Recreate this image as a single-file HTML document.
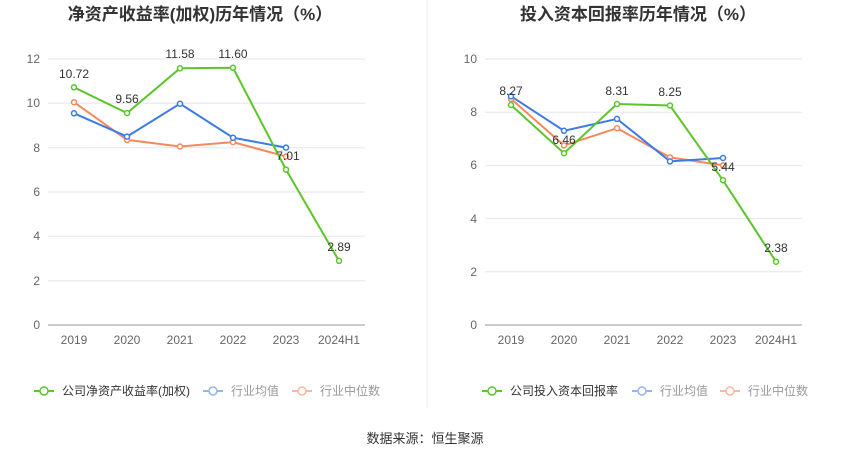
<!DOCTYPE html><html><head><meta charset="utf-8"><style>
body{margin:0;background:#fff;}
svg text{font-family:"Liberation Sans","Noto Sans CJK SC",sans-serif;}
</style></head><body>
<svg width="850" height="459" xmlns="http://www.w3.org/2000/svg">
<line x1="427" y1="0" x2="427" y2="408" stroke="#eee"/>
<text x="200" y="20" font-size="17" font-weight="bold" fill="#333" text-anchor="middle">净资产收益率(加权)历年情况（%）</text>
<text x="638" y="20" font-size="17" font-weight="bold" fill="#333" text-anchor="middle">投入资本回报率历年情况（%）</text>
<g stroke="#e6e6ee" stroke-width="1">
<line x1="48" x2="365" y1="59" y2="59"/><line x1="48" x2="365" y1="103.3" y2="103.3"/><line x1="48" x2="365" y1="147.7" y2="147.7"/><line x1="48" x2="365" y1="192" y2="192"/><line x1="48" x2="365" y1="236.3" y2="236.3"/><line x1="48" x2="365" y1="280.7" y2="280.7"/>
<line x1="485" x2="802" y1="59" y2="59"/><line x1="485" x2="802" y1="112.2" y2="112.2"/><line x1="485" x2="802" y1="165.4" y2="165.4"/><line x1="485" x2="802" y1="218.6" y2="218.6"/><line x1="485" x2="802" y1="271.8" y2="271.8"/>
</g>
<line x1="48" x2="365" y1="325" y2="325" stroke="#999"/>
<line x1="485" x2="802" y1="325" y2="325" stroke="#999"/>
<g font-size="12" fill="#666" text-anchor="end">
<text x="40" y="329">0</text><text x="40" y="285">2</text><text x="40" y="240">4</text><text x="40" y="196">6</text><text x="40" y="152">8</text><text x="40" y="107">10</text><text x="40" y="63">12</text>
<text x="477" y="329">0</text><text x="477" y="276">2</text><text x="477" y="223">4</text><text x="477" y="169">6</text><text x="477" y="116">8</text><text x="477" y="63">10</text>
</g>
<g font-size="12" fill="#666" text-anchor="middle">
<text x="74" y="344">2019</text><text x="127" y="344">2020</text><text x="180" y="344">2021</text><text x="233" y="344">2022</text><text x="286" y="344">2023</text><text x="339" y="344">2024H1</text>
<text x="511" y="344">2019</text><text x="564" y="344">2020</text><text x="617" y="344">2021</text><text x="670" y="344">2022</text><text x="723" y="344">2023</text><text x="776" y="344">2024H1</text>
</g>
<g fill="#fff" stroke-width="1.5">
<polyline fill="none" stroke="#f5895c" stroke-width="2" points="74,102.2 127,139.9 180,146.5 233,142.1 286,156.5"/>
<polyline fill="none" stroke="#3b7be6" stroke-width="2" points="74,113.3 127,136.6 180,103.7 233,137.7 286,147.6"/>
<polyline fill="none" stroke="#5cc52b" stroke-width="2" points="74,87.3 127,113.1 180,68.3 233,67.8 286,169.6 339,260.9"/>
<polyline fill="none" stroke="#f5895c" stroke-width="2" points="511,98.9 564,145.4 617,128.2 670,157.4 723,165.4"/>
<polyline fill="none" stroke="#3b7be6" stroke-width="2" points="511,96.2 564,130.8 617,118.9 670,161.4 723,158"/>
<polyline fill="none" stroke="#5cc52b" stroke-width="2" points="511,105 564,153.2 617,104 670,105.5 723,180.3 776,261.7"/>
<g stroke="#f5895c"><circle cx="74" cy="102.2" r="2.5"/><circle cx="127" cy="139.9" r="2.5"/><circle cx="180" cy="146.5" r="2.5"/><circle cx="233" cy="142.1" r="2.5"/><circle cx="286" cy="156.5" r="2.5"/><circle cx="511" cy="98.9" r="2.5"/><circle cx="564" cy="145.4" r="2.5"/><circle cx="617" cy="128.2" r="2.5"/><circle cx="670" cy="157.4" r="2.5"/><circle cx="723" cy="165.4" r="2.5"/></g>
<g stroke="#3b7be6"><circle cx="74" cy="113.3" r="2.5"/><circle cx="127" cy="136.6" r="2.5"/><circle cx="180" cy="103.7" r="2.5"/><circle cx="233" cy="137.7" r="2.5"/><circle cx="286" cy="147.6" r="2.5"/><circle cx="511" cy="96.2" r="2.5"/><circle cx="564" cy="130.8" r="2.5"/><circle cx="617" cy="118.9" r="2.5"/><circle cx="670" cy="161.4" r="2.5"/><circle cx="723" cy="158" r="2.5"/></g>
<g stroke="#5cc52b"><circle cx="74" cy="87.3" r="2.5"/><circle cx="127" cy="113.1" r="2.5"/><circle cx="180" cy="68.3" r="2.5"/><circle cx="233" cy="67.8" r="2.5"/><circle cx="286" cy="169.6" r="2.5"/><circle cx="339" cy="260.9" r="2.5"/><circle cx="511" cy="105" r="2.5"/><circle cx="564" cy="153.2" r="2.5"/><circle cx="617" cy="104" r="2.5"/><circle cx="670" cy="105.5" r="2.5"/><circle cx="723" cy="180.3" r="2.5"/><circle cx="776" cy="261.7" r="2.5"/></g>
</g>
<g font-size="12" fill="#333" text-anchor="middle">
<text x="74" y="78">10.72</text><text x="127" y="103">9.56</text><text x="180" y="58">11.58</text><text x="233" y="58">11.60</text><text x="288" y="160">7.01</text><text x="339" y="251">2.89</text>
<text x="511" y="95">8.27</text><text x="564" y="144">6.46</text><text x="617" y="95">8.31</text><text x="670" y="96">8.25</text><text x="723" y="171">5.44</text><text x="776" y="252">2.38</text>
</g>
<g font-size="12">
<line x1="34" x2="54" y1="391" y2="391" stroke="#5cc52b" stroke-width="2"/><circle cx="44" cy="391" r="4" fill="#fff" stroke="#5cc52b" stroke-width="1.5"/>
<text x="62" y="395" fill="#333">公司净资产收益率(加权)</text>
<line x1="203" x2="223" y1="391" y2="391" stroke="#94b6f0" stroke-width="2"/><circle cx="213" cy="391" r="4" fill="#fff" stroke="#94b6f0" stroke-width="1.5"/>
<text x="231" y="395" fill="#999">行业均值</text>
<line x1="292" x2="312" y1="391" y2="391" stroke="#f8b9a0" stroke-width="2"/><circle cx="302" cy="391" r="4" fill="#fff" stroke="#f8b9a0" stroke-width="1.5"/>
<text x="320" y="395" fill="#999">行业中位数</text>
<line x1="482" x2="502" y1="391" y2="391" stroke="#5cc52b" stroke-width="2"/><circle cx="492" cy="391" r="4" fill="#fff" stroke="#5cc52b" stroke-width="1.5"/>
<text x="510" y="395" fill="#333">公司投入资本回报率</text>
<line x1="632" x2="652" y1="391" y2="391" stroke="#94b6f0" stroke-width="2"/><circle cx="642" cy="391" r="4" fill="#fff" stroke="#94b6f0" stroke-width="1.5"/>
<text x="660" y="395" fill="#999">行业均值</text>
<line x1="720" x2="740" y1="391" y2="391" stroke="#f8b9a0" stroke-width="2"/><circle cx="730" cy="391" r="4" fill="#fff" stroke="#f8b9a0" stroke-width="1.5"/>
<text x="748" y="395" fill="#999">行业中位数</text>
</g>
<text x="425" y="443" font-size="13" fill="#333" text-anchor="middle">数据来源：恒生聚源</text>
</svg>
</body></html>
